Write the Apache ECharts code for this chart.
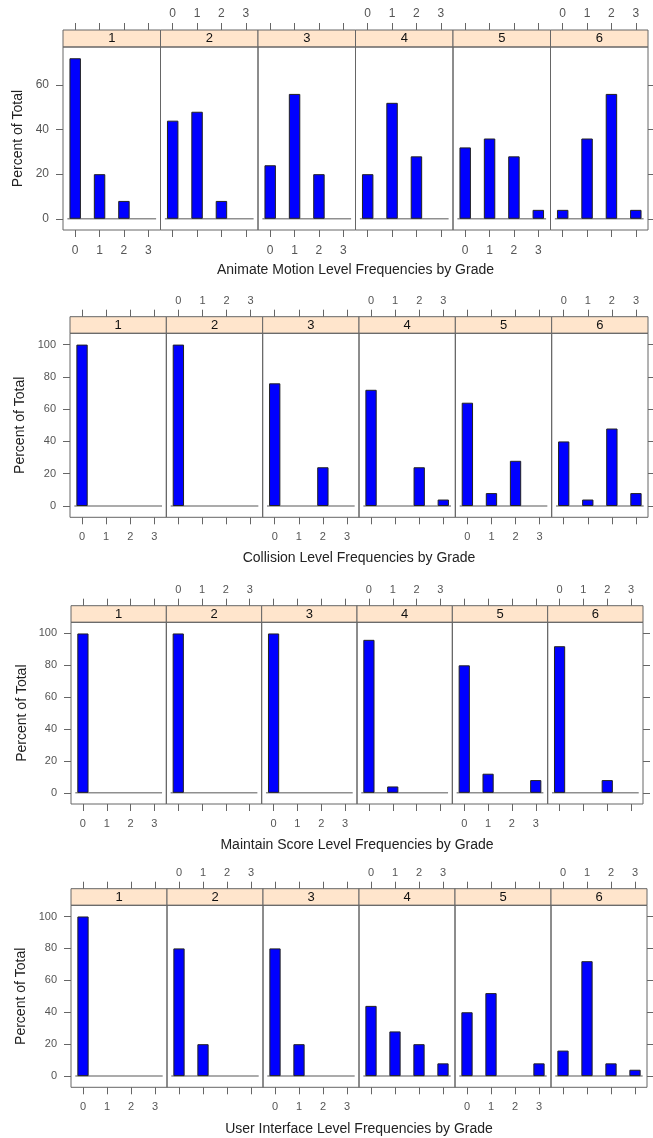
<!DOCTYPE html>
<html>
<head>
<meta charset="utf-8">
<script src="https://cdn.jsdelivr.net/npm/echarts@6/dist/echarts.min.js"></script>
<style>
html,body{margin:0;padding:0;background:#fff;}
#chart{width:653px;height:1138px;}
</style>
</head>
<body>
<div id="chart"></div>
<script>
// ---------- data ----------
const levels = ['0', '1', '2', '3'];
const grades = ['1', '2', '3', '4', '5', '6'];
// percent of total per grade (rows = grade 1..6, columns = level 0..3)
const animateMotion = [[72,20,8,0],[44,48,8,0],[24,56,20,0],[20,52,28,0],[32,36,28,4],[4,36,56,4]];
const collision     = [[100,0,0,0],[100,0,0,0],[76,0,24,0],[72,0,24,4],[64,8,28,0],[40,4,48,8]];
const maintainScore = [[100,0,0,0],[100,0,0,0],[100,0,0,0],[96,4,0,0],[80,12,0,8],[92,0,8,0]];
const userInterface = [[100,0,0,0],[80,20,0,0],[80,20,0,0],[44,28,20,8],[40,52,0,8],[16,72,8,4]];
const yTicksAnimate = [0, 20, 40, 60];
const yTicksPercent = [0, 20, 40, 60, 80, 100];
const blockTitles = [
  'Animate Motion Level Frequencies by Grade',
  'Collision Level Frequencies by Grade',
  'Maintain Score Level Frequencies by Grade',
  'User Interface Level Frequencies by Grade'
];
const yTitle = 'Percent of Total';

// ---------- layout ----------
const blocks = [
  {data: animateMotion, ticks: yTicksAnimate, L: 63, R: 648, sTop: 30,    sBot: 47,    pBot: 230,    titleY: 270,  yTitleX: 18, fs: 12, bm: 15},
  {data: collision,     ticks: yTicksPercent, L: 70, R: 648, sTop: 316.7, sBot: 333.3, pBot: 517.3,  titleY: 558,  yTitleX: 20, fs: 11, bm: 14},
  {data: maintainScore, ticks: yTicksPercent, L: 71, R: 643, sTop: 605.7, sBot: 622.3, pBot: 804,    titleY: 845,  yTitleX: 22, fs: 11, bm: 14},
  {data: userInterface, ticks: yTicksPercent, L: 71, R: 647, sTop: 888.7, sBot: 905.3, pBot: 1087.3, titleY: 1129, yTitleX: 21, fs: 11, bm: 14}
];

const FONT = '"Liberation Sans", Arial, Helvetica, sans-serif';
const frameColor = '#666';
const tickColor = '#666';
const labelColor = '#555';
const origin = 0;
const refOverhang = 0.32;

const grid = [], xAxis = [], yAxis = [], series = [], graphic = [];

blocks.forEach((b, bi) => {
  const maxV = Math.max(...b.data.flat());
  const pad = 0.07 * (maxV - origin);
  const yMin = origin - pad, yMax = maxV + pad;
  const w = (b.R - b.L) / 6;

  grades.forEach((g, p) => {
    const left = b.L + p * w;
    // ---- strip grid ----
    const sg = grid.length;
    grid.push({left: left, top: b.sTop, width: w, height: b.sBot - b.sTop,
      show: true, backgroundColor: '#FFE5CC', borderColor: frameColor, borderWidth: 1,
      containLabel: false, outerBoundsMode: 'none'});
    xAxis.push({type: 'category', gridIndex: sg, data: levels, position: 'top',
      boundaryGap: true,
      axisLine: {show: false, onZero: false},
      axisTick: {show: true, inside: false, alignWithLabel: true, length: 7, lineStyle: {color: tickColor}},
      axisLabel: {show: p % 2 === 1, margin: 10, color: labelColor, fontSize: b.fs, fontFamily: FONT},
      splitLine: {show: false}});
    yAxis.push({type: 'value', gridIndex: sg, show: false, min: 0, max: 1,
      axisLine: {onZero: false}});

    // ---- main grid ----
    const mg = grid.length;
    grid.push({left: left, top: b.sBot, width: w, height: b.pBot - b.sBot,
      show: true, backgroundColor: 'transparent', borderColor: frameColor, borderWidth: 1,
      containLabel: false, outerBoundsMode: 'none'});
    const xCat = xAxis.length;
    xAxis.push({type: 'category', gridIndex: mg, data: levels, position: 'bottom',
      boundaryGap: true,
      axisLine: {show: false, onZero: false},
      axisTick: {show: true, inside: false, alignWithLabel: true, length: 7, lineStyle: {color: tickColor}},
      axisLabel: {show: p % 2 === 0, margin: b.bm, color: labelColor, fontSize: b.fs, fontFamily: FONT},
      splitLine: {show: false}});
    const xVal = xAxis.length;
    xAxis.push({type: 'value', gridIndex: mg, show: false, min: -0.5, max: levels.length - 0.5,
      axisLine: {onZero: false}});
    const yIdx = yAxis.length;
    const showY = (p === 0 || p === grades.length - 1);
    yAxis.push({type: 'value', gridIndex: mg, min: yMin, max: yMax,
      show: showY, position: p === 0 ? 'left' : 'right',
      axisLine: {show: false, onZero: false},
      axisTick: {show: true, inside: false, length: 7, customValues: b.ticks, lineStyle: {color: tickColor}},
      axisLabel: {show: p === 0, margin: 14, customValues: b.ticks, color: labelColor, fontSize: b.fs, fontFamily: FONT},
      splitLine: {show: false}});

    // reference line at origin
    series.push({type: 'line', xAxisIndex: xVal, yAxisIndex: yIdx,
      data: [[-refOverhang, origin], [levels.length - 1 + refOverhang, origin]],
      symbol: 'none', silent: true, z: 1, animation: false,
      lineStyle: {color: '#8f8f8f', width: 1.5}});
    // bars
    series.push({type: 'bar', xAxisIndex: xCat, yAxisIndex: yIdx,
      data: b.data[p].map(v => v === 0 ? {value: v, itemStyle: {borderWidth: 0}} : v),
      barWidth: '47%', z: 2, animation: false,
      itemStyle: {color: '#0000FF', borderColor: '#222', borderWidth: 1}});

    // strip label
    graphic.push({type: 'text', x: left + w / 2, y: (b.sTop + b.sBot) / 2, z: 100,
      style: {text: g, align: 'center', verticalAlign: 'middle', fontSize: 13, fontFamily: FONT, fill: '#111'}});
  });

  // block title
  graphic.push({type: 'text', x: (b.L + b.R) / 2, y: b.titleY, z: 100,
    style: {text: blockTitles[bi], align: 'center', verticalAlign: 'middle', fontSize: 14, fontFamily: FONT, fill: '#222'}});
  // y title
  graphic.push({type: 'text', x: b.yTitleX, y: (b.sBot + b.pBot) / 2, rotation: Math.PI / 2, z: 100,
    style: {text: yTitle, align: 'center', verticalAlign: 'middle', fontSize: 14, fontFamily: FONT, fill: '#222'}});
});

const chart = echarts.init(document.getElementById('chart'), null, {renderer: 'canvas'});
chart.setOption({
  animation: false,
  backgroundColor: '#fff',
  grid, xAxis, yAxis, series, graphic
});
</script>
</body>
</html>
